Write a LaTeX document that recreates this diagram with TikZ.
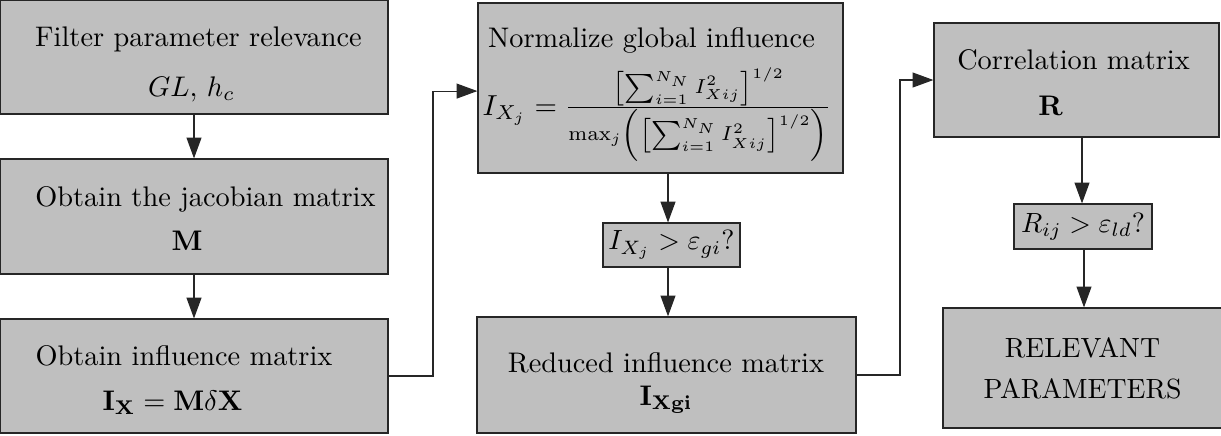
\documentclass[tikz,border=0pt]{standalone}
\usetikzlibrary{arrows.meta}
\definecolor{boxgray}{RGB}{191,191,191}
\begin{document}
\begin{tikzpicture}[x=0.36pt,y=-0.36pt,
  box/.style={draw=black!85, fill=boxgray, line width=0.45pt, inner sep=0pt, rectangle},
  arr/.style={-{Triangle[length=7.5pt,width=5.4pt]}, line width=0.4pt, draw=black!85},
  lbl/.style={anchor=base, inner sep=0pt, scale=1.02}]
\useasboundingbox (0,0) rectangle (1221,435);
% boxes
\node[box, minimum width=139.7pt, minimum height=41.0pt] (A) at (194,57) {};
\node[box, minimum width=139.7pt, minimum height=41.4pt] (B) at (194,216.5) {};
\node[box, minimum width=139.7pt, minimum height=41.0pt] (C) at (194,376) {};
\node[box, minimum width=131.4pt, minimum height=61.2pt] (D) at (660.5,88) {};
\node[box, minimum width=49.3pt, minimum height=15.8pt] (E) at (671.5,245) {$I_{X_j} > \varepsilon_{gi}?$};
\node[box, minimum width=136.4pt, minimum height=41.8pt] (F) at (666.5,375) {};
\node[box, minimum width=102.6pt, minimum height=41.0pt] (G) at (1076.5,80) {};
\node[box, minimum width=49.7pt, minimum height=16.2pt] (H) at (1083,226.5) {$R_{ij} > \varepsilon_{ld}?$};
\node[box, minimum width=100.4pt, minimum height=43.2pt, align=center] (I) at (1082.5,368) {RELEVANT\\[2.8pt]PARAMETERS};
% texts
\node[lbl] (a1) at (198.5,46) {Filter parameter relevance};
\node[lbl] (a2) at (191.5,96) {$GL,\, h_c$};
\node[lbl] (b1) at (205.5,206) {Obtain the jacobian matrix};
\node[lbl] (b2) at (187,250) {$\mathbf{M}$};
\node[lbl] (c1) at (184,365) {Obtain influence matrix};
\node[lbl] (c2) at (172.5,410) {$\mathbf{I_X} = \mathbf{M}\delta\mathbf{X}$};
\node[lbl] (d1) at (651.5,47) {Normalize global influence};
\node[lbl, anchor=base west, scale=1.02] (d2) at (482,115) {$I_{X_j} = \frac{\left[\sum_{i=1}^{N_N} I_{Xij}^2\right]^{1/2}}{\max_j\left(\left[\sum_{i=1}^{N_N} I_{Xij}^2\right]^{1/2}\right)}$};
\node[lbl] (f1) at (666,372) {Reduced influence matrix};
\node[lbl] (f2) at (666,405) {$\mathbf{I_{Xgi}}$};
\node[lbl] (g1) at (1073.5,69) {Correlation matrix};
\node[lbl] (g2) at (1050.5,115) {$\mathbf{R}$};
% connectors
\draw[arr] (A.south) -- (B.north);
\draw[arr] (B.south) -- (C.north);
\draw[arr] (C.east) -- (433,376) |- ([yshift=-1.1pt]D.west);
\draw[arr] (D.south -| 668,0) -- (E.north -| 668,0);
\draw[arr] (E.south -| 668,0) -- (F.north -| 668,0);
\draw[arr] (F.east) -- (900,375) |- (G.west);
\draw[arr] (G.south -| 1082,0) -- (H.north -| 1082,0);
\draw[arr] (H.south -| 1084,0) -- (I.north -| 1084,0);
\end{tikzpicture}
\end{document}
